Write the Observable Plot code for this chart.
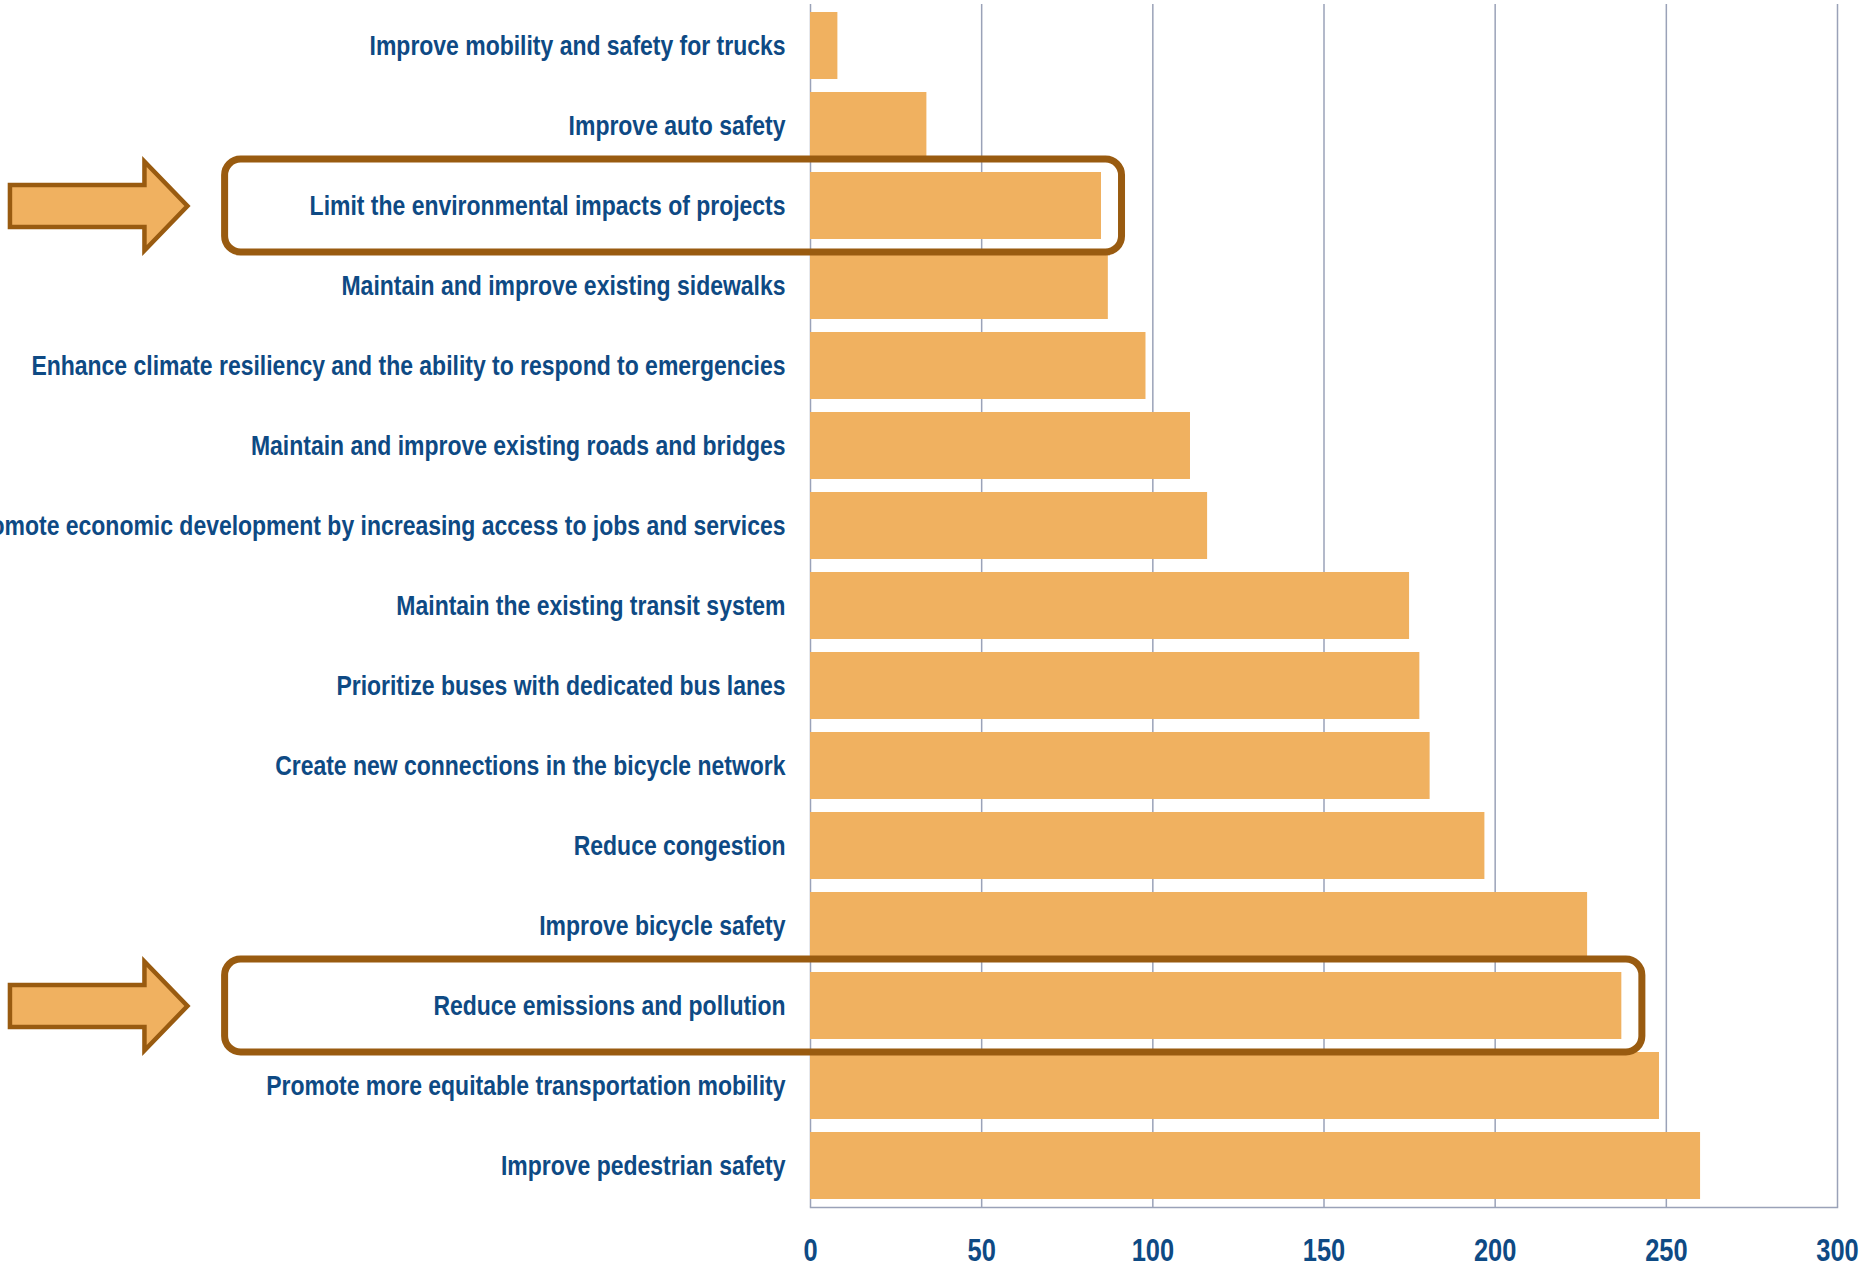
<!DOCTYPE html>
<html>
<head>
<meta charset="utf-8">
<script src="https://cdn.jsdelivr.net/npm/d3@7"></script>
<script src="https://cdn.jsdelivr.net/npm/@observablehq/plot@0.6"></script>
<style>
  html, body { margin: 0; padding: 0; background: #ffffff; }
  #chart svg { display: block; }
</style>
</head>
<body>
<div id="chart"></div>
<script>
const categories = [
  "Improve mobility and safety for trucks",
  "Improve auto safety",
  "Limit the environmental impacts of projects",
  "Maintain and improve existing sidewalks",
  "Enhance climate resiliency and the ability to respond to emergencies",
  "Maintain and improve existing roads and bridges",
  "Promote economic development by increasing access to jobs and services",
  "Maintain the existing transit system",
  "Prioritize buses with dedicated bus lanes",
  "Create new connections in the bicycle network",
  "Reduce congestion",
  "Improve bicycle safety",
  "Reduce emissions and pollution",
  "Promote more equitable transportation mobility",
  "Improve pedestrian safety"
];
const values = [8, 34, 85, 87, 98, 111, 116, 175, 178, 181, 197, 227, 237, 248, 260];
const xTicks = [0, 50, 100, 150, 200, 250, 300];
const highlighted = ["Limit the environmental impacts of projects", "Reduce emissions and pollution"];

const data = categories.map((c, i) => ({category: c, value: values[i]}));
const highlights = data.filter(d => highlighted.includes(d.category));

const BAR = "#F0B160";
const BROWN = "#995B10";
const NAVY = "#0E4A84";
const GRID = "#9AA2B8";
const FONT = "'Liberation Sans', Arial, sans-serif";
const NARROW = 0.82; // condense glyphs like Arial Narrow

// Block arrow symbol (pixel geometry relative to its centre)
const arrowSymbol = {
  draw(context, size) {
    const k = Math.sqrt(size / Math.PI) / 89;
    context.moveTo(-88.5 * k, -21 * k);
    context.lineTo(46 * k, -21 * k);
    context.lineTo(46 * k, -44.5 * k);
    context.lineTo(89 * k, 0);
    context.lineTo(46 * k, 44.5 * k);
    context.lineTo(46 * k, 21 * k);
    context.lineTo(-88.5 * k, 21 * k);
    context.closePath();
  }
};

const chart = Plot.plot({
  width: 1864,
  height: 1263,
  marginLeft: 810,
  marginRight: 27,
  marginTop: 4,
  marginBottom: 56,
  style: {color: NAVY, fontFamily: FONT, fontWeight: "bold", background: "#ffffff"},
  x: {domain: [0, 300], ticks: xTicks},
  y: {domain: categories, paddingInner: 0.166, paddingOuter: 0.083},
  marks: [
    Plot.ruleX(xTicks, {stroke: GRID, strokeWidth: 1.5}),
    Plot.frame({anchor: "bottom", stroke: GRID, strokeWidth: 1.5}),
    Plot.barX(data, {x: "value", y: "category", fill: BAR}),
    Plot.barX(highlights, {
      x1: () => -171,
      x2: d => d.value + 6,
      y: "category",
      fill: "none",
      stroke: BROWN,
      strokeWidth: 7,
      rx: 16,
      insetTop: -13,
      insetBottom: -13
    }),
    Plot.dot(highlights, {
      x: () => -208,
      y: "category",
      symbol: arrowSymbol,
      r: 89,
      fill: BAR,
      stroke: BROWN,
      strokeWidth: 4.5
    }),
    Plot.axisY({tickSize: 0, tickPadding: 25, fontSize: 28, fontWeight: "bold", label: null}),
    Plot.axisX({ticks: xTicks, tickSize: 0, tickPadding: 31, fontSize: 31, fontWeight: "bold", label: null})
  ]
});
document.getElementById("chart").appendChild(chart);

// Condense axis label glyphs horizontally (narrow bold face)
chart.querySelectorAll('g[aria-label="y-axis tick label"] text, g[aria-label="x-axis tick label"] text').forEach(t => {
  const w = t.getComputedTextLength();
  t.setAttribute("textLength", (w * NARROW).toFixed(2));
  t.setAttribute("lengthAdjust", "spacingAndGlyphs");
});
</script>
</body>
</html>
